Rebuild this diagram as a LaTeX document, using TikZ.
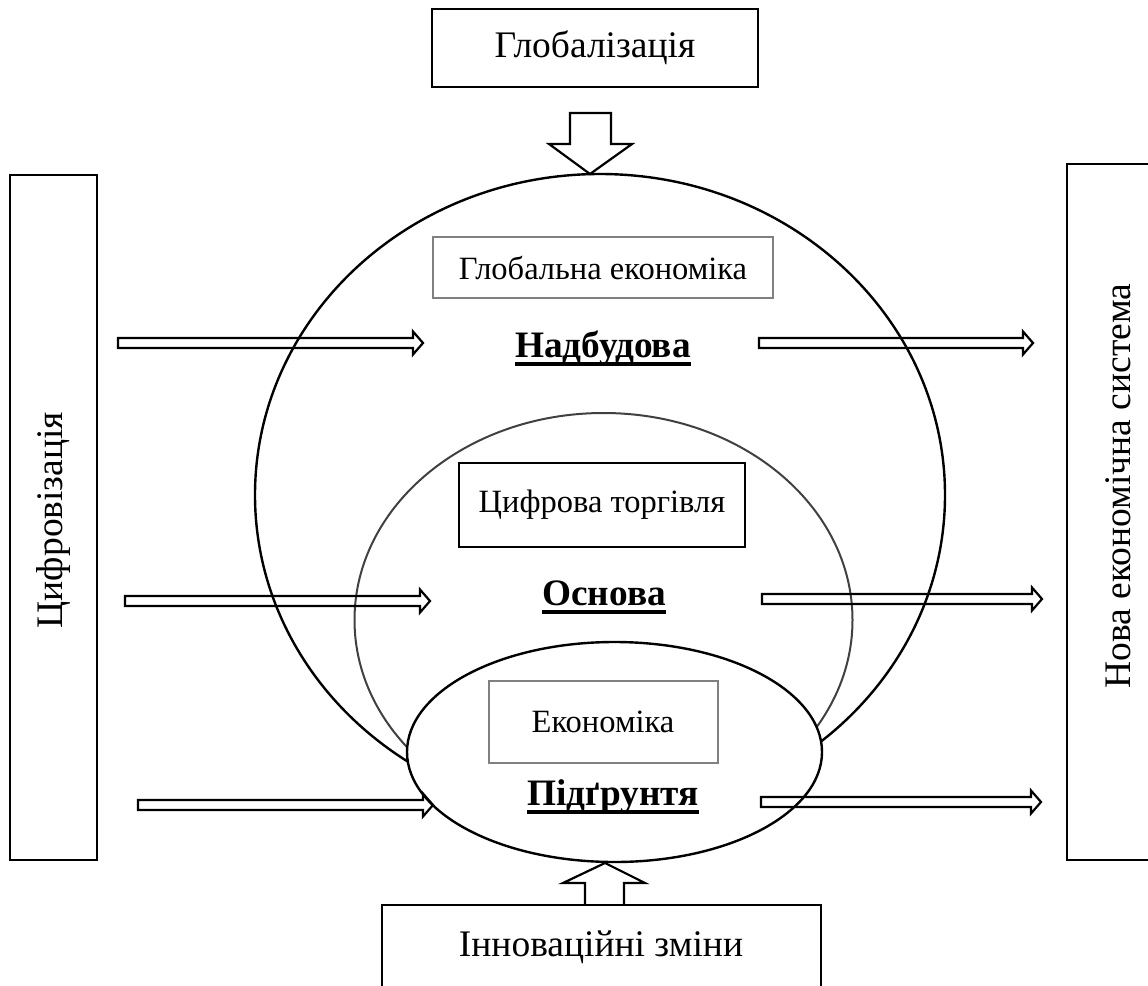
\documentclass[tikz,border=0pt]{standalone}
\usepackage{fontspec}
\setmainfont{Liberation Serif}
\begin{document}
\begin{tikzpicture}[x=1pt,y=-1pt,
  outerbox/.style={draw=black,line width=2.6pt},
  innerbox/.style={draw=black!50,line width=2.4pt,fill=white},
  plainbox/.style={draw=black,line width=2.4pt,fill=white},
  bigtext/.style={font=\fontsize{37.5}{42}\selectfont,inner sep=0pt},
  midtext/.style={font=\fontsize{32.5}{37}\selectfont,inner sep=0pt},
  layer/.style={font=\fontsize{37.3}{42}\selectfont\bfseries,inner sep=0pt,anchor=base},
  flowarrow/.style={draw=black,line width=2.2pt,line join=miter},
  ring/.style={line width=2.4pt}]
\useasboundingbox (0,0) rectangle (1148,985);

% three nested levels
\draw[ring] (600,495) ellipse [x radius=345, y radius=321];
\draw[ring,draw=black!75,line width=2pt] (603.5,620) ellipse [x radius=249, y radius=207];
\draw[ring,fill=white] (614.5,752) ellipse [x radius=207.5, y radius=110];

% outer factors
\draw[outerbox] (432,9) rectangle (758,87);
\node[bigtext] (glob) at (595,48) {Глобалізація};
\draw[outerbox] (10,175) rectangle (97,860);
\node[bigtext,rotate=90] (digit) at (53,520) {Цифровізація};
\draw[outerbox] (1067,164) rectangle (1170,860);
\node[bigtext,rotate=90] (newsys) at (1118,486) {Нова економічна система};
\draw[outerbox] (382,905) rectangle (821,1000);
\node[bigtext] (innov) at (601,947) {Інноваційні зміни};

% influence arrows from top and bottom
\draw[flowarrow] (570,113) -- (611,113) -- (611,144) -- (632,144) -- (590,174)
  -- (549,144) -- (570,144) -- cycle;
\draw[flowarrow] (585,905) -- (585,883) -- (563,883) -- (605,863) -- (645,883)
  -- (624,883) -- (624,905);

% level contents
\draw[innerbox] (433,237) rectangle (773,298);
\node[midtext] (globec) at (603,268) {Глобальна економіка};
\draw[plainbox] (459,463) rectangle (745,547);
\node[midtext] (dtrade) at (602,505) {Цифрова торгівля};
\draw[innerbox] (489,681) rectangle (718,763);
\node[midtext] (econ) at (603,722) {Економіка};

\node[layer] (top) at (603,357) {Надбудова};
\node[layer] (mid) at (604,605) {Основа};
\node[layer] (bot) at (613,805) {Підґрунтя};
\foreach \n in {top,mid,bot}
  \draw[line width=3.5pt] ([yshift=-7pt]\n.base west) -- ([yshift=-7pt]\n.base east);

% horizontal flows: x0, x1, y
\foreach \xa/\xb/\yy in {118/423/343, 759/1033/343, 125/430/601, 762/1042/599, 138/433/805, 761/1041/802}
  \draw[flowarrow] (\xa,\yy-5) -- (\xb-10,\yy-5) -- (\xb-10,\yy-11.5) -- (\xb,\yy)
    -- (\xb-10,\yy+11.5) -- (\xb-10,\yy+5) -- (\xa,\yy+5) -- cycle;
\end{tikzpicture}
\end{document}
